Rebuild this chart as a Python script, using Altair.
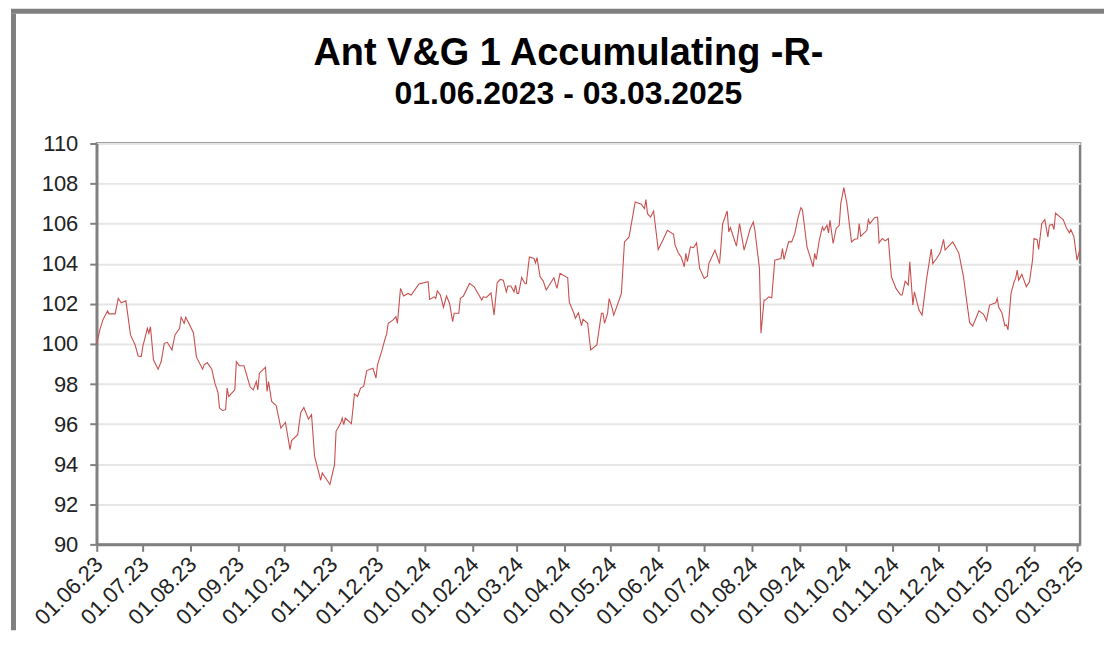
import altair as alt
import pandas as pd

dates = [
    "2023-06-01", "2023-06-03", "2023-06-05", "2023-06-08", "2023-06-09", "2023-06-13", "2023-06-15", "2023-06-17",
    "2023-06-20", "2023-06-23", "2023-06-26", "2023-06-28", "2023-06-30", "2023-07-01", "2023-07-04", "2023-07-05",
    "2023-07-06", "2023-07-08", "2023-07-11", "2023-07-13", "2023-07-15", "2023-07-17", "2023-07-20", "2023-07-22",
    "2023-07-25", "2023-07-26", "2023-07-28", "2023-07-29", "2023-07-31", "2023-08-03", "2023-08-05", "2023-08-09",
    "2023-08-10", "2023-08-12", "2023-08-15", "2023-08-17", "2023-08-19", "2023-08-20", "2023-08-22", "2023-08-24",
    "2023-08-25", "2023-08-26", "2023-08-30", "2023-08-31", "2023-09-02", "2023-09-05", "2023-09-09", "2023-09-11",
    "2023-09-13", "2023-09-14", "2023-09-15", "2023-09-19", "2023-09-20", "2023-09-21", "2023-09-23", "2023-09-26",
    "2023-09-29", "2023-10-02", "2023-10-05", "2023-10-06", "2023-10-10", "2023-10-12", "2023-10-14", "2023-10-17",
    "2023-10-19", "2023-10-21", "2023-10-23", "2023-10-25", "2023-10-26", "2023-10-31", "2023-11-03", "2023-11-04",
    "2023-11-07", "2023-11-08", "2023-11-09", "2023-11-10", "2023-11-14", "2023-11-16", "2023-11-18", "2023-11-20",
    "2023-11-22", "2023-11-24", "2023-11-28", "2023-11-30", "2023-12-01", "2023-12-04", "2023-12-06", "2023-12-07",
    "2023-12-08", "2023-12-11", "2023-12-13", "2023-12-14", "2023-12-16", "2023-12-18", "2023-12-21", "2023-12-23",
    "2023-12-28", "2024-01-03", "2024-01-04", "2024-01-07", "2024-01-08", "2024-01-09", "2024-01-11", "2024-01-13",
    "2024-01-15", "2024-01-17", "2024-01-19", "2024-01-20", "2024-01-23", "2024-01-24", "2024-01-26", "2024-01-30",
    "2024-02-02", "2024-02-07", "2024-02-08", "2024-02-10", "2024-02-13", "2024-02-15", "2024-02-17", "2024-02-19",
    "2024-02-21", "2024-02-23", "2024-02-24", "2024-02-26", "2024-02-28", "2024-02-29", "2024-03-01", "2024-03-02",
    "2024-03-04", "2024-03-06", "2024-03-07", "2024-03-09", "2024-03-12", "2024-03-13", "2024-03-14", "2024-03-16",
    "2024-03-18", "2024-03-20", "2024-03-22", "2024-03-25", "2024-03-26", "2024-03-27", "2024-03-29", "2024-04-03",
    "2024-04-04", "2024-04-07", "2024-04-08", "2024-04-10", "2024-04-12", "2024-04-13", "2024-04-16", "2024-04-18",
    "2024-04-22", "2024-04-25", "2024-04-26", "2024-04-27", "2024-04-29", "2024-04-30", "2024-05-02", "2024-05-03",
    "2024-05-05", "2024-05-08", "2024-05-10", "2024-05-13", "2024-05-17", "2024-05-21", "2024-05-23", "2024-05-24",
    "2024-05-25", "2024-05-27", "2024-05-29", "2024-06-01", "2024-06-04", "2024-06-07", "2024-06-11", "2024-06-12",
    "2024-06-14", "2024-06-16", "2024-06-18", "2024-06-19", "2024-06-20", "2024-06-22", "2024-06-24", "2024-06-26",
    "2024-06-28", "2024-07-01", "2024-07-03", "2024-07-04", "2024-07-08", "2024-07-11", "2024-07-13", "2024-07-16",
    "2024-07-17", "2024-07-18", "2024-07-22", "2024-07-24", "2024-07-27", "2024-07-31", "2024-08-02", "2024-08-03",
    "2024-08-06", "2024-08-07", "2024-08-09", "2024-08-10", "2024-08-12", "2024-08-14", "2024-08-16", "2024-08-20",
    "2024-08-21", "2024-08-22", "2024-08-25", "2024-08-27", "2024-08-29", "2024-08-31", "2024-09-02", "2024-09-03",
    "2024-09-06", "2024-09-10", "2024-09-11", "2024-09-12", "2024-09-14", "2024-09-16", "2024-09-17", "2024-09-19",
    "2024-09-20", "2024-09-21", "2024-09-23", "2024-09-25", "2024-09-27", "2024-09-28", "2024-09-30", "2024-10-02",
    "2024-10-05", "2024-10-07", "2024-10-09", "2024-10-10", "2024-10-11", "2024-10-15", "2024-10-16", "2024-10-17",
    "2024-10-20", "2024-10-22", "2024-10-23", "2024-10-25", "2024-10-27", "2024-10-29", "2024-10-31", "2024-11-03",
    "2024-11-06", "2024-11-07", "2024-11-09", "2024-11-11", "2024-11-12", "2024-11-14", "2024-11-15", "2024-11-18",
    "2024-11-20", "2024-11-23", "2024-11-26", "2024-11-27", "2024-11-30", "2024-12-02", "2024-12-04", "2024-12-05",
    "2024-12-07", "2024-12-10", "2024-12-12", "2024-12-14", "2024-12-17", "2024-12-19", "2024-12-21", "2024-12-23",
    "2024-12-26", "2024-12-27", "2024-12-30", "2025-01-01", "2025-01-03", "2025-01-07", "2025-01-08", "2025-01-09",
    "2025-01-11", "2025-01-13", "2025-01-14", "2025-01-15", "2025-01-17", "2025-01-19", "2025-01-20", "2025-01-21",
    "2025-01-22", "2025-01-24", "2025-01-25", "2025-01-27", "2025-01-29", "2025-01-31", "2025-02-01", "2025-02-03",
    "2025-02-04", "2025-02-06", "2025-02-08", "2025-02-10", "2025-02-11", "2025-02-13", "2025-02-14", "2025-02-15",
    "2025-02-18", "2025-02-20", "2025-02-22", "2025-02-24", "2025-02-25", "2025-02-27", "2025-03-01", "2025-03-03",
]

values = [
    100.0, 100.7, 101.2, 101.65, 101.5, 101.5, 102.27, 102.05,
    102.15, 100.45, 99.95, 99.4, 99.37, 99.87, 100.78, 100.53,
    100.86, 99.2, 98.74, 99.12, 100.03, 100.08, 99.7, 100.45,
    100.78, 101.33, 101.03, 101.33, 101.03, 100.56, 99.34, 98.74,
    98.96, 99.07, 98.74, 98.04, 97.58, 96.8, 96.68, 96.72,
    97.8, 97.38, 97.71, 99.12, 98.91, 98.91, 97.85, 97.71,
    98.12, 97.71, 98.54, 98.84, 97.63, 98.12, 97.13, 96.92,
    95.8, 96.08, 94.73, 95.18, 95.47, 96.58, 96.83, 96.25,
    96.47, 94.39, 93.81, 93.2, 93.57, 92.99, 93.98, 95.64,
    96.05, 96.3, 95.97, 96.3, 96.02, 97.51, 97.38, 97.8,
    97.88, 98.67, 98.79, 98.3, 98.96, 99.7, 100.28, 100.5,
    101.03, 101.19, 101.36, 101.03, 102.77, 102.39, 102.52, 102.44,
    102.99, 103.1, 102.22, 102.35, 102.27, 102.65, 102.44, 101.83,
    102.39, 102.02, 101.11, 101.53, 101.53, 102.27, 102.39, 103.02,
    102.85, 102.19, 102.35, 102.32, 102.55, 101.44, 103.05, 103.22,
    103.18, 102.6, 102.89, 102.89, 102.6, 102.93, 102.52, 102.52,
    103.32, 103.02, 103.0, 104.34, 104.26, 104.04, 104.31, 103.35,
    103.15, 102.69, 102.94, 103.3, 103.02, 102.77, 103.52, 103.3,
    102.1, 101.53, 101.28, 101.56, 100.91, 101.23, 101.03, 99.7,
    99.95, 101.53, 101.53, 101.03, 101.53, 102.27, 101.77, 101.44,
    101.86, 102.52, 105.09, 105.34, 107.08, 106.97, 106.75, 107.2,
    106.5, 106.33, 106.63, 104.71, 105.17, 105.67, 105.47, 104.93,
    104.56, 104.33, 103.85, 104.52, 104.1, 104.84, 104.8, 105.04,
    103.77, 103.27, 103.38, 104.01, 104.68, 104.01, 106.0, 106.63,
    105.59, 105.81, 104.88, 106.0, 104.68, 105.76, 106.08, 105.67,
    103.77, 100.53, 102.19, 102.19, 102.35, 102.3, 104.18, 104.26,
    104.76, 104.21, 105.09, 105.09, 105.5, 106.25, 106.8, 106.7,
    104.84, 103.85, 104.52, 104.21, 105.17, 105.84, 105.67, 105.92,
    105.54, 106.17, 105.01, 105.76, 105.92, 107.0, 107.8, 107.0,
    105.09, 105.22, 105.25, 106.0, 105.37, 105.67, 106.2, 106.0,
    106.3, 106.33, 105.04, 105.26, 105.14, 105.26, 103.35, 102.77,
    102.44, 102.44, 103.13, 102.94, 104.1, 101.94, 102.6, 101.69,
    101.44, 103.27, 104.73, 104.01, 104.31, 104.59, 105.22, 104.68,
    104.85, 105.09, 104.81, 104.52, 103.35, 102.19, 101.06, 100.9,
    101.44, 101.65, 101.49, 101.16, 101.94, 102.05, 102.27, 101.83,
    101.56, 100.9, 100.95, 100.7, 102.52, 103.1, 103.27, 103.68,
    103.18, 103.47, 103.27, 102.85, 103.1, 104.18, 105.26, 105.2,
    104.71, 106.0, 106.2, 105.34, 105.92, 105.96, 105.71, 106.53,
    106.33, 106.2, 105.81, 105.54, 105.7, 105.34, 104.18, 104.76,
]

month_ticks = [
    "2023-06-01", "2023-07-01", "2023-08-01", "2023-09-01", "2023-10-01", "2023-11-01", "2023-12-01",
    "2024-01-01", "2024-02-01", "2024-03-01", "2024-04-01", "2024-05-01", "2024-06-01", "2024-07-01",
    "2024-08-01", "2024-09-01", "2024-10-01", "2024-11-01", "2024-12-01", "2025-01-01", "2025-02-01",
    "2025-03-01",
]
x_domain = ["2023-06-01", "2025-03-03"]
y_ticks = [90, 92, 94, 96, 98, 100, 102, 104, 106, 108, 110]

title_text = "Ant V&G 1 Accumulating -R-"
subtitle_text = "01.06.2023 - 03.03.2025"


def dt(s):
    y, m, d = (int(p) for p in s.split("-"))
    return alt.DateTime(year=y, month=m, date=d, utc=True)


df = pd.DataFrame({"date": dates, "value": values})

FONT = "Liberation Sans"
GRAY = "#808080"

line = alt.Chart(df).mark_line(color="#c8504f", strokeWidth=1.1).encode(
    x=alt.X(
        "date:T",
        scale=alt.Scale(type="utc", domain=[dt(s) for s in x_domain]),
        axis=alt.Axis(
            values=[dt(s) for s in month_ticks],
            format="%d.%m.%y",
            labelAngle=-45,
            labelAlign="right",
            labelBaseline="middle",
            labelOverlap=False,
            labelOffset=2,
            grid=False,
            title=None,
            labelPadding=9,
        ),
    ),
    y=alt.Y(
        "value:Q",
        scale=alt.Scale(domain=[90, 110], nice=False, zero=False),
        axis=alt.Axis(values=y_ticks, grid=True, title=None, labelPadding=12),
    ),
)

# outer chart frame: left and top edges (the rest lies outside the view)
frame_left = alt.Chart(alt.Data(values=[{}])).mark_rule(
    stroke="#7f7f7f", strokeWidth=5
).encode(x=alt.value(-83.5), y=alt.value(-130), y2=alt.value(488))

frame_top = alt.Chart(alt.Data(values=[{}])).mark_rule(
    stroke="#7f7f7f", strokeWidth=5
).encode(x=alt.value(-86), x2=alt.value(1010), y=alt.value(-132.5))

title_mark = alt.Chart(alt.Data(values=[{"t": title_text}])).mark_text(
    font=FONT, fontSize=38, fontWeight="bold", color="black",
    align="center", baseline="alphabetic",
).encode(text="t:N", x=alt.value(473), y=alt.value(-79))

subtitle_mark = alt.Chart(alt.Data(values=[{"t": subtitle_text}])).mark_text(
    font=FONT, fontSize=32, fontWeight="bold", color="black",
    align="center", baseline="alphabetic",
).encode(text="t:N", x=alt.value(473), y=alt.value(-40))

chart = alt.layer(frame_left, frame_top, title_mark, subtitle_mark, line).properties(
    width=986,
    height=402,
    padding=0,
).configure_view(
    stroke=GRAY, strokeWidth=2.5
).configure_axis(
    domainColor=GRAY,
    domainWidth=2.5,
    tickColor=GRAY,
    tickWidth=2,
    tickSize=7,
    gridColor="#e6e6e6",
    gridWidth=2,
    labelFont=FONT,
    labelFontSize=22,
    labelColor="#222222",
)

chart.save("out.html", embed_options={"renderer": "svg", "actions": False})
